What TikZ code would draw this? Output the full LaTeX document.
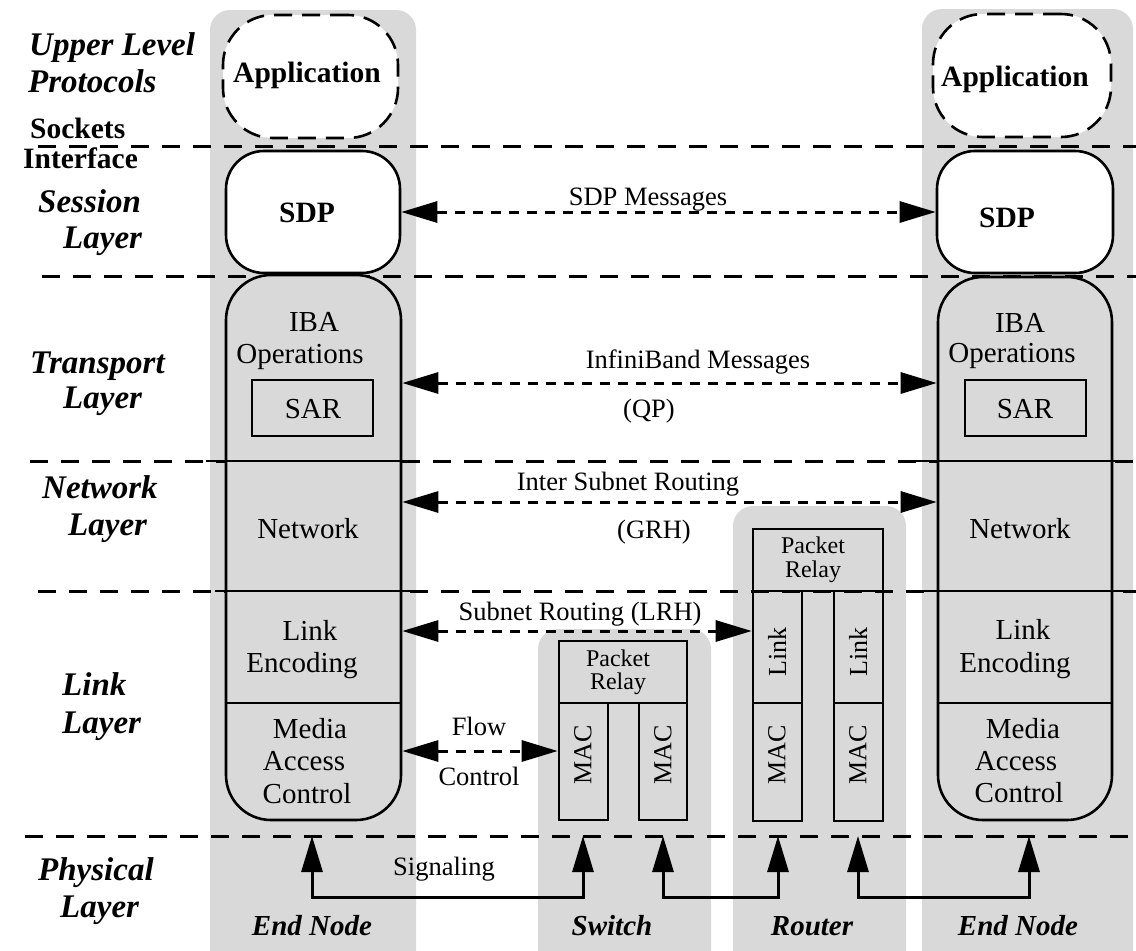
\documentclass[tikz,border=0pt]{standalone}
\usepackage{fontspec}
\setmainfont{Liberation Serif}
\usetikzlibrary{arrows.meta}
\definecolor{colgray}{RGB}{217,217,217}
\begin{document}
\begin{tikzpicture}[x=1pt,y=-1pt,
  gcol/.style={fill=colgray, draw=none, rounded corners=20pt, inner sep=0pt, rectangle},
  layerline/.style={line width=3pt, dash pattern=on 18pt off 13pt},
  solidseg/.style={line width=2.6pt},
  bx/.style={draw, line width=2.6pt, inner sep=0pt, rectangle},
  lab/.style={font=\fontsize{33}{37}\selectfont\bfseries\itshape, anchor=base west, inner sep=0pt},
  sock/.style={font=\fontsize{29.5}{31}\selectfont\bfseries, anchor=base west, inner sep=0pt},
  txt/.style={font=\fontsize{29}{33}\selectfont, anchor=base, inner sep=0pt},
  btxt/.style={font=\fontsize{29.5}{33}\selectfont\bfseries, anchor=base, inner sep=0pt},
  alab/.style={font=\fontsize{26.5}{30}\selectfont, anchor=base, inner sep=0pt},
  smalltxt/.style={font=\fontsize{24}{26}\selectfont, anchor=base, inner sep=0pt},
  rottxt/.style={font=\fontsize{26}{28}\selectfont, rotate=90, inner sep=0pt},
  nlab/.style={font=\fontsize{29}{33}\selectfont\bfseries\itshape, anchor=base, inner sep=0pt},
  msg/.style={line width=3pt, dash pattern=on 10pt off 8pt, {Triangle[length=36pt,width=21pt]}-{Triangle[length=36pt,width=21pt]}},
  sig/.style={line width=3pt, {Triangle[length=36pt,width=21pt]}-{Triangle[length=36pt,width=21pt]}}
]
\useasboundingbox (0,0) rectangle (1136,951);
\clip (0,0) rectangle (1136,951);

% gray columns
\node[gcol, minimum width=206pt, minimum height=965pt] (colL) at (313,492.5) {};
\node[gcol, minimum width=173pt, minimum height=346pt] (colS) at (624.5,802) {};
\node[gcol, minimum width=173pt, minimum height=469pt] (colR) at (819.5,740.5) {};
\node[gcol, minimum width=211pt, minimum height=966pt] (colE) at (1027.5,492) {};

% layer boundaries
\draw[layerline] (38,146) -- (1136,146);
\draw[layerline] (42,276) -- (1136,276);
\draw[layerline] (30,461) -- (1136,461);
\draw[layerline] (38,591) -- (1136,591);
\draw[layerline] (25,836) -- (1136,836);

% end node boxes
\node[bx, dash pattern=on 18pt off 10pt, fill=white, rounded corners=50pt, minimum width=175pt, minimum height=123pt] (lapp) at (310.5,76.5) {};
\node[bx, dash pattern=on 18pt off 10pt, fill=white, rounded corners=50pt, minimum width=178pt, minimum height=123pt] (rapp) at (1022,75.5) {};
\node[bx, fill=white, rounded corners=38pt, minimum width=174pt, minimum height=122pt] (lsdp) at (313,212) {};
\node[bx, fill=white, rounded corners=38pt, minimum width=176pt, minimum height=122pt] (rsdp) at (1025,212) {};
\node[bx, fill=colgray, rounded corners=45pt, minimum width=175pt, minimum height=545pt] (lbox) at (313.5,547.5) {};
\node[bx, fill=colgray, rounded corners=45pt, minimum width=174pt, minimum height=543pt] (rbox) at (1025,548.5) {};
\node[bx, minimum width=121pt, minimum height=56pt] (lsar) at (312.5,408) {};
\node[bx, minimum width=121pt, minimum height=56pt] (rsar) at (1025.5,408) {};

% solid layer segments across end nodes
\draw[solidseg] (206,461) -- (413,461);
\draw[solidseg] (913,461) -- (1120,461);
\draw[solidseg] (215,591) -- (423,591);
\draw[solidseg] (924,591) -- (1136,591);
\draw[solidseg] (lbox.west |- 0,703) -- (lbox.east |- 0,703);
\draw[solidseg] (rbox.west |- 0,703) -- (rbox.east |- 0,703);

% switch
\node[bx, minimum width=128pt, minimum height=62pt] (spr) at (623,672) {};
\node[bx, minimum width=49pt, minimum height=117pt] (smac1) at (583.5,761.5) {};
\node[bx, minimum width=48pt, minimum height=117pt] (smac2) at (663,761.5) {};

% router
\node[bx, minimum width=130pt, minimum height=62pt] (rpr) at (818,560) {};
\node[bx, minimum width=49pt, minimum height=112pt] (rl1) at (777.5,647) {};
\node[bx, minimum width=49pt, minimum height=118pt] (rm1) at (777.5,762) {};
\node[bx, minimum width=49pt, minimum height=112pt] (rl2) at (858.5,647) {};
\node[bx, minimum width=49pt, minimum height=118pt] (rm2) at (858.5,762) {};

% left layer labels
\node[lab] (t1a) at (29,55) {Upper Level};
\node[lab] (t1b) at (28,92) {Protocols};
\node[sock] (t2a) at (30,138) {Sockets};
\node[sock] (t2b) at (23,168) {Interface};
\node[lab] (t3a) at (38,212) {Session};
\node[lab] (t3b) at (63,248) {Layer};
\node[lab] (t4a) at (30,373) {Transport};
\node[lab] (t4b) at (63,408) {Layer};
\node[lab] (t5a) at (42,498) {Network};
\node[lab] (t5b) at (68,535) {Layer};
\node[lab] (t6a) at (62,695) {Link};
\node[lab] (t6b) at (62,733) {Layer};
\node[lab] (t7a) at (38,880) {Physical};
\node[lab] (t7b) at (60,917) {Layer};

% left end node texts
\node[btxt] (la) at (307,82) {Application};
\node[btxt] (ls) at (307,222) {SDP};
\node[txt] (li1) at (314,331) {IBA};
\node[txt] (li2) at (300,363) {Operations};
\node[txt] (lsr) at (313,418) {SAR};
\node[txt] (lnw) at (308,538) {Network};
\node[txt] (lk1) at (310,640) {Link};
\node[txt] (lk2) at (302,672) {Encoding};
\node[txt] (lm1) at (310,738) {Media};
\node[txt] (lm2) at (304,770) {Access};
\node[txt] (lm3) at (307,803) {Control};
\node[nlab] (len) at (312,935) {End Node};

% right end node texts
\node[btxt] (ra) at (1015,86) {Application};
\node[btxt] (rs) at (1007,227) {SDP};
\node[txt] (ri1) at (1020,332) {IBA};
\node[txt] (ri2) at (1012,362) {Operations};
\node[txt] (rsr) at (1025,418) {SAR};
\node[txt] (rnw) at (1020,538) {Network};
\node[txt] (rk1) at (1023,639) {Link};
\node[txt] (rk2) at (1015,672) {Encoding};
\node[txt] (rm1t) at (1023,738) {Media};
\node[txt] (rm2t) at (1016,770) {Access};
\node[txt] (rm3t) at (1019,802) {Control};
\node[nlab] (ren) at (1018,935) {End Node};

% switch texts
\node[smalltxt] (sp1) at (618,666) {Packet};
\node[smalltxt] (sp2) at (618,689) {Relay};
\node[rottxt] (sm1t) at (583,755) {MAC};
\node[rottxt] (sm2t) at (663,755) {MAC};
\node[nlab] (swl) at (612,935) {Switch};

% router texts
\node[smalltxt] (rp1) at (813,553) {Packet};
\node[smalltxt] (rp2) at (813,577) {Relay};
\node[rottxt] (rl1t) at (777,652) {Link};
\node[rottxt] (rl2t) at (858,652) {Link};
\node[rottxt] (rm1m) at (777,755) {MAC};
\node[rottxt] (rm2m) at (858,755) {MAC};
\node[nlab] (rtl) at (812,935) {Router};

% message labels
\node[alab] (m1) at (648,205) {SDP Messages};
\node[alab] (m2) at (698,368) {InfiniBand Messages};
\node[alab] (m2b) at (649,417) {(QP)};
\node[alab] (m3) at (628,490) {Inter Subnet Routing};
\node[alab] (m3b) at (654,538) {(GRH)};
\node[alab] (m4) at (580,620) {Subnet Routing (LRH)};
\node[alab] (m5a) at (479,735) {Flow};
\node[alab] (m5b) at (479,785) {Control};
\node[alab] (m6) at (444,875) {Signaling};

% message arrows
\draw[msg] (lsdp.east) -- (rsdp.west);
\draw[msg] (lbox.east |- 0,383) -- (rbox.west |- 0,383);
\draw[msg] (lbox.east |- 0,502) -- (rbox.west |- 0,502);
\draw[msg] (lbox.east |- 0,631) -- (rl1.west |- 0,631);
\draw[msg] (lbox.east |- 0,751) -- (smac1.west |- 0,751);

% signaling
\coordinate (pL) at (312,836);
\coordinate (pS1) at (583,836);
\coordinate (pS2) at (663,836);
\coordinate (pR1) at (778,836);
\coordinate (pR2) at (858,836);
\coordinate (pE) at (1029,836);
\draw[sig] (pL) -- ++(0,61) -| (pS1);
\draw[sig] (pS2) -- ++(0,61) -| (pR1);
\draw[sig] (pR2) -- ++(0,61) -| (pE);
\end{tikzpicture}
\end{document}
